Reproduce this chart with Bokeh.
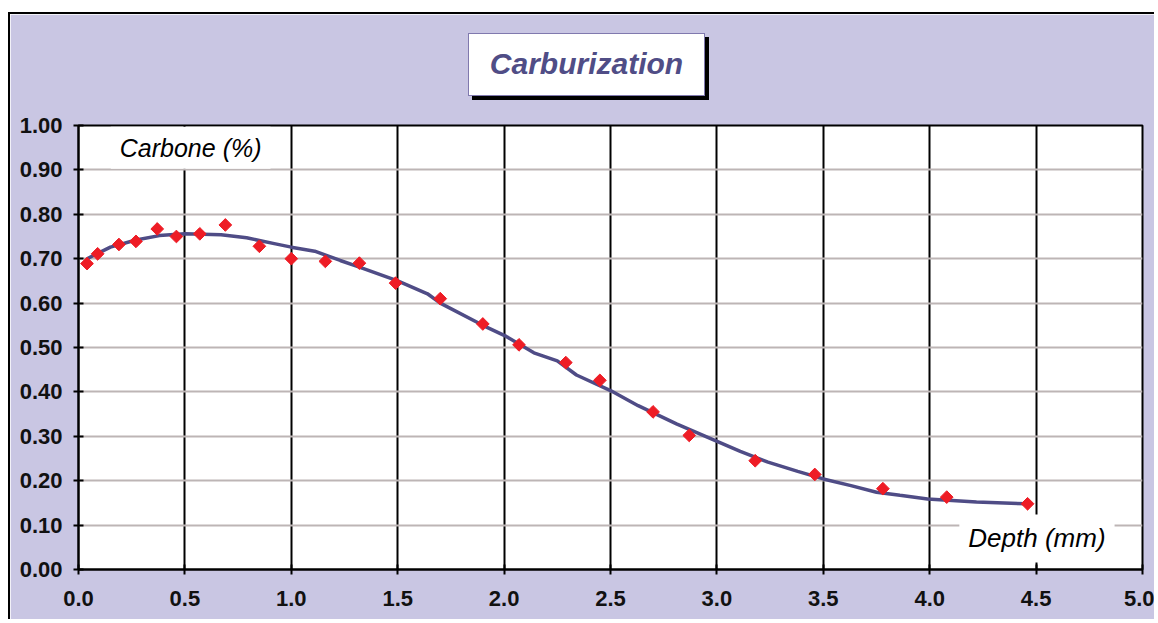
import math
from bokeh.plotting import figure
from bokeh.models import Range1d, FixedTicker, NumeralTickFormatter, Label, Div
from bokeh.embed import file_html
from bokeh.resources import INLINE

# measured points (depth in mm, carbon in %)
depth = [0.04, 0.09, 0.19, 0.27, 0.37, 0.46, 0.57, 0.69, 0.85, 1.00, 1.16, 1.32,
         1.49, 1.70, 1.90, 2.07, 2.29, 2.45, 2.70, 2.87, 3.18, 3.46, 3.78, 4.08, 4.46]
carbon = [0.689, 0.711, 0.732, 0.739, 0.767, 0.750, 0.756, 0.776, 0.728, 0.700, 0.694, 0.690,
          0.645, 0.610, 0.553, 0.506, 0.466, 0.426, 0.355, 0.302, 0.245, 0.214, 0.182, 0.163, 0.148]

# trend line
trend_depth = [0.04, 0.15, 0.27, 0.38, 0.50, 0.67, 0.79, 0.92, 1.00, 1.11, 1.23, 1.32,
               1.50, 1.64, 1.70, 1.90, 2.01, 2.14, 2.25, 2.34, 2.50, 2.63, 2.81, 2.99,
               3.11, 3.24, 3.38, 3.50, 3.63, 3.75, 3.86, 3.99, 4.22, 4.46]
trend_carbon = [0.700, 0.726, 0.742, 0.752, 0.756, 0.754, 0.747, 0.734, 0.726, 0.717, 0.696, 0.681,
                0.650, 0.621, 0.600, 0.550, 0.525, 0.488, 0.470, 0.438, 0.403, 0.369, 0.328, 0.291,
                0.266, 0.242, 0.221, 0.204, 0.189, 0.174, 0.167, 0.159, 0.152, 0.148]

x_ticks = [0.0, 0.5, 1.0, 1.5, 2.0, 2.5, 3.0, 3.5, 4.0, 4.5, 5.0]
y_ticks = [0.0, 0.1, 0.2, 0.3, 0.4, 0.5, 0.6, 0.7, 0.8, 0.9, 1.0]

title_text = "Carburization"
y_title = "Carbone (%)"
x_title = "Depth (mm)"

LAV = "#C9C6E3"
FONT = "Liberation Sans"

p = figure(width=1146, height=607, output_backend="svg", toolbar_location=None,
           x_range=Range1d(0, 5), y_range=Range1d(0, 1),
           min_border_left=68, min_border_right=14, min_border_top=111, min_border_bottom=52)
p.styles = {"margin-left": "8px", "margin-top": "12px",
            "border-left": "2px solid black", "border-top": "2px solid black"}
p.border_fill_color = LAV
p.background_fill_color = "white"
p.outline_line_color = "black"
p.outline_line_width = 2

# grids
p.xgrid.ticker = FixedTicker(ticks=x_ticks)
p.xgrid.grid_line_color = "black"
p.xgrid.grid_line_width = 2
p.ygrid.ticker = FixedTicker(ticks=y_ticks)
p.ygrid.grid_line_color = "#BDB5B5"
p.ygrid.grid_line_width = 2

# axes
for ax, ticks, fmt in ((p.xaxis[0], x_ticks, "0.0"), (p.yaxis[0], y_ticks, "0.00")):
    ax.ticker = FixedTicker(ticks=ticks)
    ax.formatter = NumeralTickFormatter(format=fmt)
    ax.axis_line_color = "black"
    ax.axis_line_width = 2
    ax.major_tick_line_color = "black"
    ax.major_tick_line_width = 2
    ax.major_tick_out = 5
    ax.major_tick_in = 5
    ax.minor_tick_line_color = None
    ax.major_label_text_font = FONT
    ax.major_label_text_font_style = "bold"
    ax.major_label_text_font_size = "22px"
    ax.major_label_text_color = "#111111"
p.xaxis[0].major_label_standoff = 16
p.yaxis[0].major_label_standoff = 11

# trend line and points
p.line(trend_depth, trend_carbon, line_color="#4F4C86", line_width=3.5)
p.scatter(depth, carbon, marker="square", angle=math.pi / 4, size=9,
          fill_color="#EE1C25", line_color="#EE1C25")

# axis title labels
p.add_layout(Label(x=0.527, y=0.950, text=y_title, anchor="center",
                   text_font=FONT, text_font_style="italic", text_font_size="25px",
                   text_color="black", background_fill_color="white",
                   padding=dict(left=9, right=9, top=7, bottom=7)))
p.add_layout(Label(x=4.504, y=0.070, text=x_title, anchor="center",
                   text_font=FONT, text_font_style="italic", text_font_size="26px",
                   text_color="black", background_fill_color="white",
                   padding=dict(left=9, right=9, top=9, bottom=9)))

# chart title box with drop shadow (absolute positioned over the canvas)
title_html = (
    '<div style="box-sizing:border-box;width:237px;height:63px;background:white;'
    'border:1.5px solid #8079AE;box-shadow:4px 4px 0 #000;display:flex;'
    'align-items:center;justify-content:center;font-family:\'Liberation Sans\';'
    'font-weight:bold;font-style:italic;font-size:30px;color:#504D86;">'
    + title_text + '</div>'
)
title_div = Div(text=title_html, width=242, height=68,
                styles={"position": "absolute", "left": "463px", "top": "28px"})

open("out.html", "w").write(file_html([p, title_div], INLINE))
